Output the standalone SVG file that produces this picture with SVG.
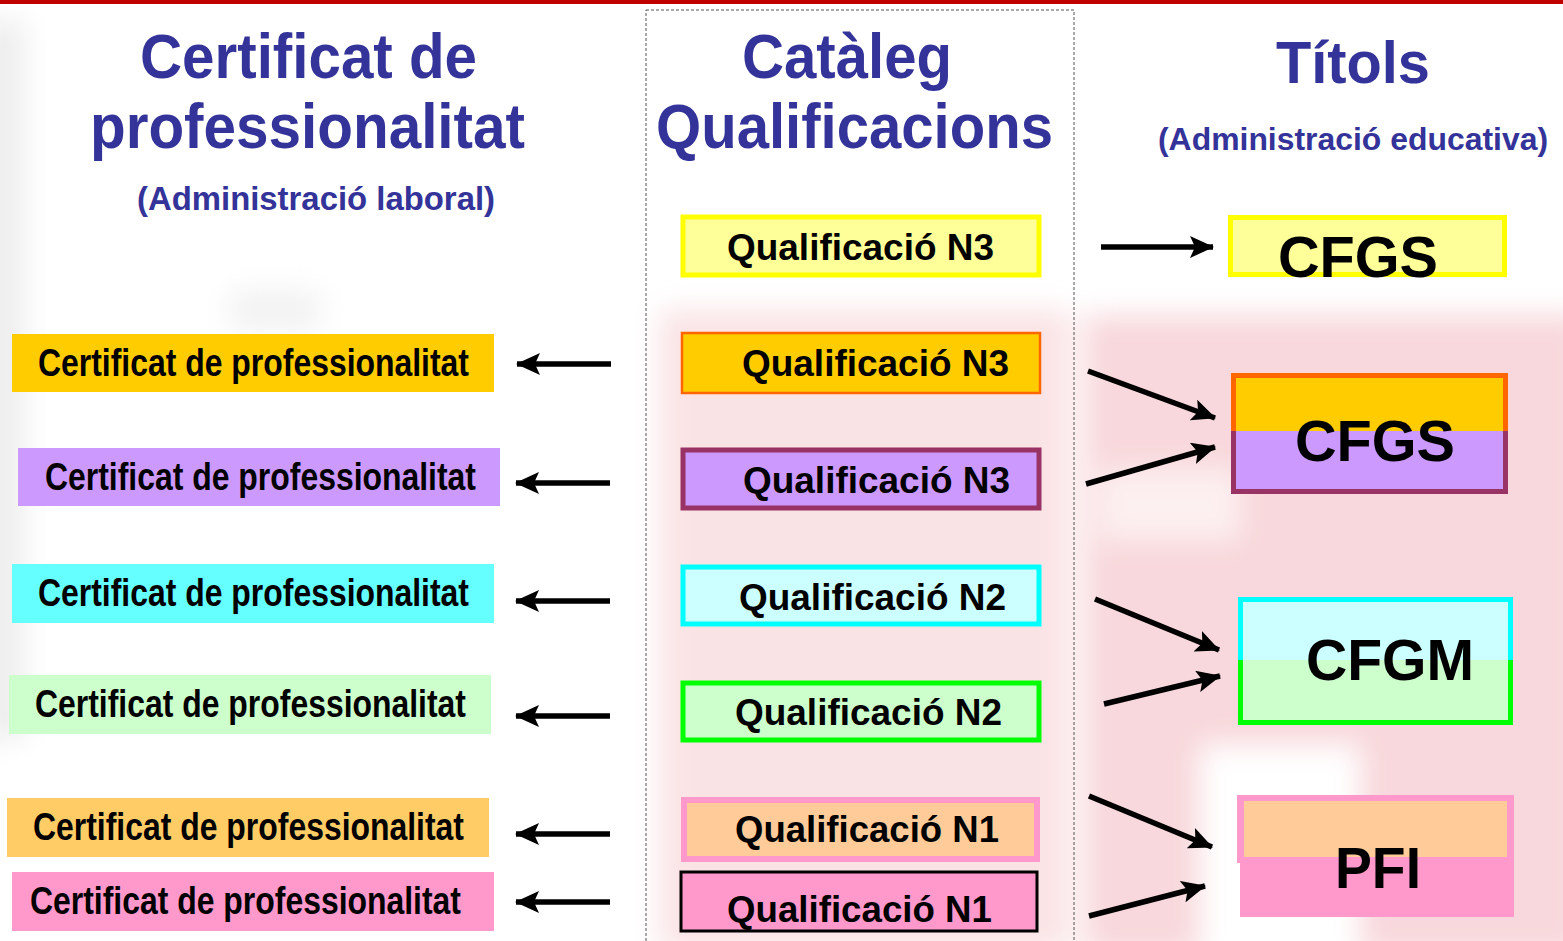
<svg xmlns="http://www.w3.org/2000/svg" width="1563" height="941" viewBox="0 0 1563 941">
<defs>
<marker id="ah" markerUnits="userSpaceOnUse" markerWidth="24" markerHeight="22" refX="23" refY="11" orient="auto">
<path d="M0,0 L24,11 L0,22 L5,11 z" fill="#000"/>
</marker>
<filter id="blur" x="-20%" y="-20%" width="140%" height="140%"><feGaussianBlur stdDeviation="14"/></filter>
<style>
.title{font-family:"Liberation Sans",Arial,sans-serif;font-weight:bold;fill:#333399}
.lbl{font-family:"Liberation Sans",Arial,sans-serif;font-weight:bold;fill:#000}
.big{font-family:"Liberation Sans",Arial,sans-serif;font-weight:bold;fill:#000;font-size:58px}
.conn line{stroke:#000;stroke-width:5.5;marker-end:url(#ah)}
</style>
</defs>
<rect width="1563" height="941" fill="#fff"/>
<g id="background" filter="url(#blur)">
<rect x="1085" y="315" width="500" height="640" fill="#f8d8dc"/>
<rect x="660" y="310" width="410" height="640" fill="#fae3e5"/>
<rect x="1200" y="745" width="160" height="220" fill="#fff"/>
<rect x="1100" y="470" width="140" height="70" fill="#fdf0f1"/>
<rect x="-30" y="20" width="55" height="720" fill="#eeeeee"/>
<rect x="230" y="290" width="90" height="40" fill="#f2f2f2"/>
</g>
<rect x="0" y="0" width="1563" height="4" fill="#c00000"/>
<rect id="catalog-frame" x="646" y="10" width="428" height="940" fill="none" stroke="#555" stroke-width="1" stroke-dasharray="3,2"/>
<g id="headers">
<text class="title" x="140" y="78" font-size="63" textLength="337" lengthAdjust="spacingAndGlyphs">Certificat de</text>
<text class="title" x="90" y="148" font-size="63" textLength="435" lengthAdjust="spacingAndGlyphs">professionalitat</text>
<text class="title" x="137" y="210" font-size="33" textLength="358" lengthAdjust="spacingAndGlyphs">(Administració laboral)</text>
<text class="title" x="742" y="78" font-size="63" textLength="210" lengthAdjust="spacingAndGlyphs">Catàleg</text>
<text class="title" x="656" y="148" font-size="63" textLength="397" lengthAdjust="spacingAndGlyphs">Qualificacions</text>
<text class="title" x="1276" y="83" font-size="60" textLength="154" lengthAdjust="spacingAndGlyphs">Títols</text>
<text class="title" x="1158" y="150" font-size="32" textLength="390" lengthAdjust="spacingAndGlyphs">(Administració educativa)</text>
</g>
<g id="cert1"><rect x="12" y="334" width="482" height="58" fill="#ffcc00"/><text class="lbl" x="38" y="376" font-size="38" textLength="431" lengthAdjust="spacingAndGlyphs">Certificat de professionalitat</text></g>
<g id="cert2"><rect x="18" y="448" width="482" height="58" fill="#cc99ff"/><text class="lbl" x="45" y="490" font-size="38" textLength="431" lengthAdjust="spacingAndGlyphs">Certificat de professionalitat</text></g>
<g id="cert3"><rect x="12" y="564" width="482" height="59" fill="#66ffff"/><text class="lbl" x="38" y="606" font-size="38" textLength="431" lengthAdjust="spacingAndGlyphs">Certificat de professionalitat</text></g>
<g id="cert4"><rect x="9" y="675" width="482" height="59" fill="#ccffcc"/><text class="lbl" x="35" y="717" font-size="38" textLength="431" lengthAdjust="spacingAndGlyphs">Certificat de professionalitat</text></g>
<g id="cert5"><rect x="7" y="798" width="482" height="59" fill="#ffcc66"/><text class="lbl" x="33" y="840" font-size="38" textLength="431" lengthAdjust="spacingAndGlyphs">Certificat de professionalitat</text></g>
<g id="cert6"><rect x="12" y="872" width="482" height="59" fill="#ff99cc"/><text class="lbl" x="30" y="914" font-size="38" textLength="431" lengthAdjust="spacingAndGlyphs">Certificat de professionalitat</text></g>
<g id="qual1"><rect x="683" y="217" width="356" height="58" fill="#ffff99" stroke="#ffff00" stroke-width="5"/><text class="lbl" x="727" y="260" font-size="36" textLength="267" lengthAdjust="spacingAndGlyphs">Qualificació N3</text></g>
<g id="qual2"><rect x="682" y="333" width="358" height="60" fill="#ffcc00" stroke="#ff6600" stroke-width="2.5"/><text class="lbl" x="742" y="376" font-size="36" textLength="267" lengthAdjust="spacingAndGlyphs">Qualificació N3</text></g>
<g id="qual3"><rect x="683" y="450" width="356" height="58" fill="#cc99ff" stroke="#993366" stroke-width="5"/><text class="lbl" x="743" y="493" font-size="36" textLength="267" lengthAdjust="spacingAndGlyphs">Qualificació N3</text></g>
<g id="qual4"><rect x="683" y="567" width="356" height="57" fill="#ccffff" stroke="#00ffff" stroke-width="5"/><text class="lbl" x="739" y="610" font-size="36" textLength="267" lengthAdjust="spacingAndGlyphs">Qualificació N2</text></g>
<g id="qual5"><rect x="683" y="683" width="356" height="57" fill="#ccffcc" stroke="#00ff00" stroke-width="5"/><text class="lbl" x="735" y="725" font-size="36" textLength="267" lengthAdjust="spacingAndGlyphs">Qualificació N2</text></g>
<g id="qual6"><rect x="684" y="800" width="353" height="59" fill="#ffcc99" stroke="#ff99cc" stroke-width="6"/><text class="lbl" x="735" y="842" font-size="36" textLength="264" lengthAdjust="spacingAndGlyphs">Qualificació N1</text></g>
<g id="qual7"><rect x="681" y="872" width="356" height="59" fill="#ff99cc" stroke="#000" stroke-width="3"/><text class="lbl" x="727" y="922" font-size="36" textLength="265" lengthAdjust="spacingAndGlyphs">Qualificació N1</text></g>
<g id="cfgs1"><rect x="1230.5" y="217.5" width="274" height="57" fill="#ffff99" stroke="#ffff00" stroke-width="5"/><text class="big" x="1278" y="277" textLength="160" lengthAdjust="spacingAndGlyphs">CFGS</text></g>
<g id="cfgs2">
<rect x="1231" y="373" width="277" height="58" fill="#ffcc00"/>
<rect x="1231" y="431" width="277" height="63" fill="#cc99ff"/>
<path d="M1233.5,431 V375.5 H1505.5 V431" fill="none" stroke="#ff6600" stroke-width="5"/>
<path d="M1233.5,431 V491.5 H1505.5 V431" fill="none" stroke="#993366" stroke-width="5"/>
<text class="big" x="1295" y="461" textLength="160" lengthAdjust="spacingAndGlyphs">CFGS</text></g>
<g id="cfgm">
<rect x="1238" y="597" width="275" height="63" fill="#ccffff"/>
<rect x="1238" y="660" width="275" height="65" fill="#ccffcc"/>
<path d="M1240.5,660 V599.5 H1510.5 V660" fill="none" stroke="#00ffff" stroke-width="5"/>
<path d="M1240.5,660 V722.5 H1510.5 V660" fill="none" stroke="#00ff00" stroke-width="5"/>
<text class="big" x="1306" y="680" textLength="168" lengthAdjust="spacingAndGlyphs">CFGM</text></g>
<g id="pfi">
<rect x="1237" y="795" width="277" height="68" fill="#ff99cc"/>
<rect x="1240" y="857" width="274" height="60" fill="#ff99cc"/>
<rect x="1244" y="801" width="263" height="56" fill="#ffcc99"/>
<text class="big" x="1335" y="888" textLength="86" lengthAdjust="spacingAndGlyphs">PFI</text></g>
<g id="connectors" class="conn">
<line x1="611" y1="364" x2="517" y2="364"/>
<line x1="610" y1="483" x2="516" y2="483"/>
<line x1="610" y1="601" x2="516" y2="601"/>
<line x1="610" y1="716" x2="516" y2="716"/>
<line x1="610" y1="834" x2="516" y2="834"/>
<line x1="610" y1="902" x2="516" y2="902"/>
<line x1="1101" y1="247" x2="1213" y2="247"/>
<line x1="1088" y1="371" x2="1215" y2="418"/>
<line x1="1086" y1="484" x2="1215" y2="447"/>
<line x1="1095" y1="599" x2="1219" y2="650"/>
<line x1="1104" y1="704" x2="1220" y2="676"/>
<line x1="1089" y1="796" x2="1212" y2="847"/>
<line x1="1089" y1="916" x2="1205" y2="886"/>
</g>
</svg>
